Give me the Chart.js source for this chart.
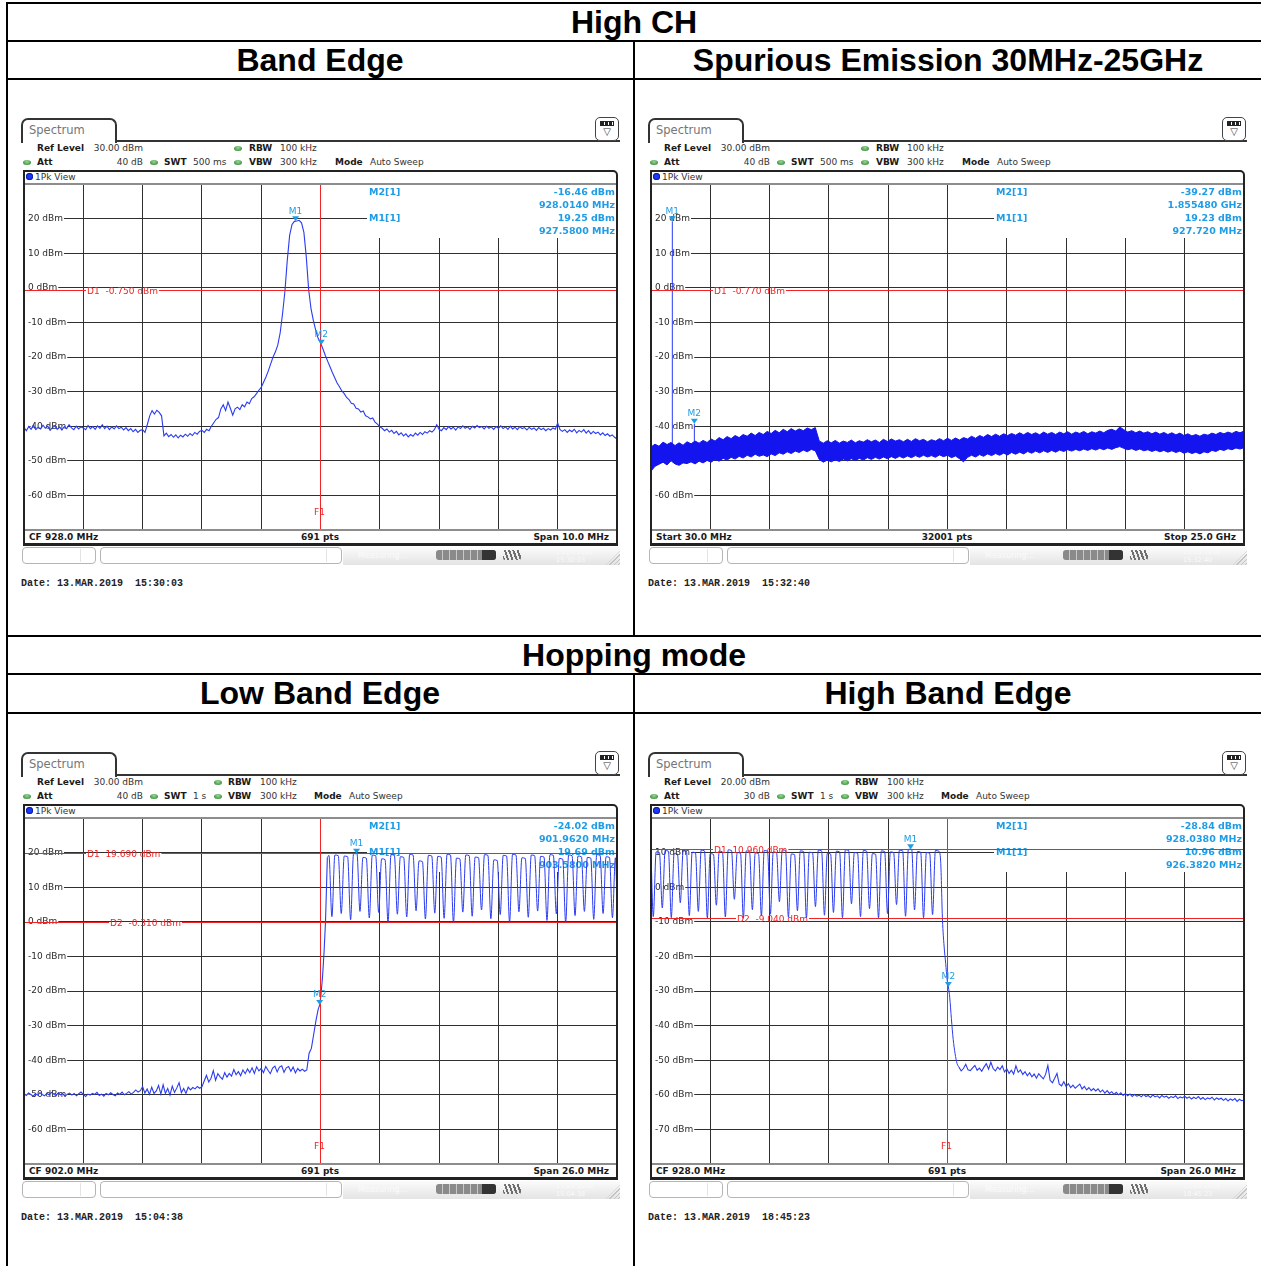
<!DOCTYPE html>
<html>
<head>
<meta charset="utf-8">
<title>High CH / Hopping mode – spectrum plots</title>
<script src="https://cdn.jsdelivr.net/npm/chart.js@4.4.1/dist/chart.umd.min.js"></script>
<style>
html, body { margin:0; padding:0; background:#fff; }
#page { position:relative; width:1261px; height:1266px; overflow:hidden; background:#fff; }
#page div, #page span, #page canvas { position:absolute; }
.rule { background:#000; }
.title { font:bold 32px "Liberation Sans", Arial, sans-serif; color:#000; white-space:nowrap; line-height:38px; transform:translateX(-50%); }
.t9 { font:9px "DejaVu Sans", sans-serif; color:#333; white-space:nowrap; line-height:12px; }
.b { font-weight:bold; color:#1a1a1a; }
.dot { width:8px; height:5px; border-radius:50%; background:radial-gradient(ellipse at 50% 35%, #9ad89a 0%, #55a655 55%, #2f6f2f 100%); }
.tab { box-sizing:border-box; border:2px solid #333; border-bottom:0; border-radius:7px 7px 0 0; background:#fff; }
.tabtxt { font:11.5px "DejaVu Sans", sans-serif; color:#757575; line-height:12px; white-space:nowrap; }
.btn { box-sizing:border-box; border:1.5px solid #444; border-radius:5px; background:#fff; }
.frame { box-sizing:border-box; border:2px solid #222; border-bottom-width:3px; border-radius:0 5px 0 0; z-index:3; }
.trdot { border-radius:50%; background:#1b38ff; box-shadow:inset 0 0 0 1px #0c1f9a; }
.sbox { box-sizing:border-box; border:1px solid #b5b5b5; border-radius:4px; background:#fff; }
.prog { border-radius:3px; background:repeating-linear-gradient(90deg, #8a8a8a 0 6px, #c8c8c8 6px 7px); }
.icon4 { background:repeating-linear-gradient(70deg, #6f6f6f 0 2px, transparent 2px 4px); border-radius:2px; }
.stamp { font:6.5px "DejaVu Sans", sans-serif; color:#fafafa; line-height:12px; white-space:nowrap; }
.grip { background:repeating-linear-gradient(135deg, #c4c4c4 0 1px, transparent 1px 3px); clip-path:polygon(100% 0, 100% 100%, 0 100%); }
.date { font:bold 10px "Liberation Mono", "DejaVu Sans Mono", monospace; color:#222; white-space:pre; line-height:12px; }
canvas { z-index:2; }
</style>
</head>
<body>
<div id="page"></div>
<script>
// ---------------- Band Edge, High CH (CF 928 MHz, span 10 MHz) ----------------
// peak-detector trace, one level every 0.04 MHz from 923 MHz
const bandEdgeStart = 923.0;
const bandEdgeStep = 0.04;
const bandEdgeLevels = [
  -40.4,-41.3,-40.1,-40.9,-39.8,-41.0,-40.3,-40.8,-39.7,-40.6,-40.0,-41.2,-40.4,-39.9,-40.9,-40.2,-41.1,-40.1,-40.7,-39.6,-40.5,-41.0,-40.0,-40.8,-40.2,
  -40.5,-41.0,-39.8,-40.7,-40.1,-40.9,-39.9,-40.6,-39.6,-40.7,-40.0,-41.0,-40.2,-40.8,-39.9,-40.7,-40.3,-41.1,-40.4,-41.3,-40.7,-41.6,-40.9,-41.8,-41.2,
  -41.0,-41.8,-39.5,-37.0,-35.5,-36.5,-35.4,-36.0,-37.0,-42.8,-42.0,-43.0,-42.4,-43.2,-42.5,-43.4,-42.6,-43.1,-42.3,-42.9,-42.1,-42.7,-41.8,-42.3,-41.5,
  -41.2,-41.8,-40.9,-41.3,-40.0,-39.0,-38.0,-37.5,-35.0,-33.8,-35.5,-33.0,-34.8,-36.8,-35.0,-34.5,-35.2,-33.8,-34.4,-33.0,-33.5,-32.0,-31.5,-30.6,-29.6,
  -28.8,-27.3,-25.8,-24.0,-22.0,-20.0,-18.5,-16.5,-13.0,-7.5,-1.0,8.0,15.2,18.3,19.2,19.3,19.5,18.8,16.0,9.0,-0.5,-6.0,-9.5,-12.3,-14.6,
  -15.9,-17.6,-19.5,-21.2,-22.8,-24.5,-26.0,-27.5,-28.6,-29.8,-30.6,-31.7,-32.3,-33.4,-33.6,-34.8,-35.0,-35.9,-35.6,-37.0,-37.3,-37.9,-37.6,-38.8,-39.4,
  -40.2,-40.6,-41.3,-40.8,-41.7,-41.2,-42.1,-41.5,-42.5,-41.9,-42.8,-42.2,-43.1,-42.4,-42.9,-42.0,-42.6,-41.8,-42.4,-41.6,-42.0,-41.3,-41.7,-41.0,-39.6,
  -40.9,-41.3,-40.4,-41.0,-40.1,-40.8,-40.3,-41.1,-40.2,-40.7,-39.9,-40.6,-40.2,-40.9,-40.0,-40.5,-39.8,-40.4,-40.1,-40.8,-40.0,-40.6,-40.2,-40.9,-40.1,
  -40.6,-39.9,-40.7,-40.2,-40.9,-40.0,-40.8,-40.3,-41.0,-40.1,-40.7,-40.4,-41.1,-40.3,-40.9,-40.5,-41.2,-40.4,-41.0,-40.6,-41.3,-40.7,-41.1,-40.5,-40.9,
  -39.1,-41.0,-41.5,-41.0,-41.8,-41.1,-41.6,-40.9,-41.9,-41.2,-41.7,-41.0,-42.0,-41.3,-42.2,-41.5,-42.1,-41.7,-42.5,-41.9,-42.7,-42.2,-42.9,-42.5,-43.2,
  -43.7
];
const bandEdgeMarkerFreq = [927.58, 928.014];
const bandEdgeMarkerLevel = [19.25, -16.46];
const bandEdgeDisplayLines = [-0.75];

// ---------------- Spurious emission 30 MHz - 25 GHz ----------------
// upper / lower envelope of the 32001-point sweep (GHz axis)
const spurStart = 0.03;
const spurStop = 25.0;
const spurUpper = [
  -46.0,-45.2,-45.8,-44.6,-45.3,-44.7,-45.6,-44.8,-45.5,-44.5,
  -45.1,-44.3,-44.9,-44.1,-44.7,-43.7,-44.3,-43.3,-43.9,-43.0,
  -43.6,-42.7,-43.3,-42.4,-42.9,-42.0,-42.7,-41.8,-42.4,-41.5,
  -42.1,-41.2,-41.9,-40.9,-41.6,-40.7,-41.4,-40.8,-41.3,-40.5,
  -41.0,-40.4,-44.3,-44.9,-44.2,-44.8,-44.1,-44.9,-44.3,-44.7,
  -44.0,-44.8,-44.2,-44.6,-43.9,-44.5,-44.0,-44.7,-43.8,-44.4,
  -43.7,-44.3,-43.9,-44.5,-43.8,-44.4,-43.6,-44.2,-43.8,-44.5,
  -43.9,-44.3,-43.6,-44.2,-43.5,-44.1,-43.4,-44.0,-43.3,-43.7,
  -42.9,-43.5,-42.7,-43.2,-42.4,-43.0,-42.3,-42.9,-42.2,-42.7,
  -42.1,-42.6,-41.9,-42.5,-41.8,-42.4,-41.9,-42.5,-41.7,-42.3,
  -41.8,-42.4,-41.7,-42.2,-41.6,-42.3,-41.7,-42.1,-41.5,-42.2,
  -41.6,-42.0,-41.4,-41.9,-41.2,-40.9,-41.4,-40.2,-41.0,-41.7,
  -41.3,-41.9,-41.4,-42.0,-41.6,-42.2,-41.7,-42.3,-41.8,-42.4,
  -41.9,-42.5,-42.0,-42.7,-42.2,-42.8,-42.4,-42.9,-42.3,-42.6,
  -42.0,-42.4,-41.8,-42.2,-41.7,-42.1,-41.5,-41.9,-41.4
];
const spurLower = [
  -53.0,-51.6,-51.0,-50.4,-51.2,-50.0,-50.9,-51.3,-50.6,-50.8,
  -50.3,-50.9,-50.1,-50.6,-49.9,-50.4,-49.6,-50.1,-49.3,-49.8,
  -49.0,-49.5,-48.7,-49.2,-48.4,-48.9,-48.1,-48.7,-48.3,-48.8,
  -48.0,-48.5,-47.7,-48.1,-47.4,-47.9,-47.2,-47.6,-46.9,-47.4,
  -46.7,-47.1,-49.6,-50.4,-49.8,-50.3,-49.7,-50.2,-49.5,-50.0,
  -49.4,-49.9,-49.3,-49.8,-49.1,-49.6,-49.0,-49.5,-48.9,-49.4,
  -48.8,-49.3,-48.7,-49.2,-48.6,-49.1,-48.5,-49.0,-48.4,-48.9,
  -48.5,-49.0,-48.3,-48.8,-48.4,-49.1,-48.6,-49.4,-50.3,-49.0,
  -48.4,-48.9,-48.2,-48.7,-48.0,-48.5,-47.9,-48.4,-47.8,-48.3,
  -47.6,-48.1,-47.5,-48.0,-47.3,-47.8,-47.2,-47.7,-47.1,-47.6,
  -47.0,-47.5,-46.9,-47.3,-46.8,-47.2,-46.7,-47.1,-46.6,-47.0,
  -46.5,-46.9,-46.4,-46.8,-46.3,-46.7,-46.2,-45.9,-46.4,-46.8,
  -46.5,-47.0,-46.6,-47.1,-46.8,-47.3,-46.9,-47.4,-47.0,-47.5,
  -47.1,-47.6,-47.2,-47.8,-47.4,-47.9,-47.5,-48.0,-47.4,-47.7,
  -47.0,-47.3,-46.7,-47.0,-46.5,-46.8,-46.3,-46.6,-46.2
];
const spurMarkerFreq = [0.92772, 1.85548];
const spurMarkerLevel = [19.23, -39.27];
const spurSpikeBase = [-45.0, -44.6];
const spurDisplayLines = [-0.77];

// ---------------- Hopping mode, low band edge (CF 902 MHz, span 26 MHz) ----------------
const lowNoiseStart = 889.0;
const lowNoiseStep = 0.1;
const lowNoiseLevels = [
  -49.6,-50.2,-49.5,-49.9,-50.4,-49.7,-50.1,-49.4,-49.9,-50.3,
  -49.6,-50.0,-49.3,-49.8,-50.2,-49.5,-50.0,-49.7,-50.4,-49.8,
  -49.5,-50.1,-49.6,-50.3,-49.7,-49.2,-49.9,-50.5,-49.8,-50.1,
  -49.6,-49.9,-49.3,-50.2,-49.8,-50.4,-49.6,-50.0,-49.4,-49.9,
  -50.3,-49.5,-49.9,-49.2,-50.0,-49.6,-49.1,-49.8,-49.3,-48.6,
  -49.2,-48.8,-47.6,-49.5,-48.3,-49.9,-47.8,-49.6,-48.9,-47.3,
  -49.8,-47.1,-49.6,-48.2,-50.1,-47.5,-49.3,-48.0,-46.5,-49.4,
  -48.2,-49.6,-47.8,-48.6,-47.9,-48.3,-47.6,-48.1,-47.7,-46.0,
  -44.4,-46.3,-45.2,-43.0,-45.8,-43.9,-44.8,-45.5,-43.6,-44.9,
  -43.8,-44.6,-42.7,-44.2,-43.3,-44.5,-42.8,-43.9,-42.5,-43.6,
  -42.2,-43.8,-41.9,-43.1,-42.4,-43.6,-41.8,-42.9,-43.9,-42.3,
  -41.7,-43.4,-42.0,-41.6,-43.5,-42.2,-41.8,-43.2,-42.0,-43.7,
  -42.4,-43.1,-42.6,-43.2,-42.8,-38.0,-36.6
];
const lowEdgeRise = [
  [901.715,-32.0],[901.803,-28.5],[901.890,-25.5],[901.962,-24.02],[902.022,-21.0],
  [902.088,-16.0],[902.154,-9.0],[902.219,0.0],[902.263,10.0],[902.30,18.6]
];
const lowHopTrace = [
  [902.30,18.6],[902.37,19.2],
  [902.50,1.5],[902.63,19.3],[902.78,19.1],
  [902.91,2.4],[903.04,19.0],[903.19,18.8],
  [903.32,0.6],[903.45,19.69],[903.60,19.69],
  [903.73,3.0],[903.86,18.6],[904.01,18.4],
  [904.14,1.1],[904.27,19.3],[904.42,19.1],
  [904.55,2.7],[904.68,18.2],[904.83,18.0],
  [904.96,-0.2],[905.09,19.4],[905.24,19.2],
  [905.37,2.2],[905.50,18.8],[905.65,18.6],
  [905.78,1.4],[905.91,19.5],[906.06,19.3],
  [906.19,3.2],[906.32,17.6],[906.47,17.4],
  [906.60,0.8],[906.73,19.2],[906.88,19.0],
  [907.01,2.5],[907.14,18.9],[907.29,18.7],
  [907.42,1.0],[907.55,19.5],[907.70,19.3],
  [907.83,-0.3],[907.96,18.4],[908.11,18.2],
  [908.24,2.8],[908.37,19.3],[908.52,19.1],
  [908.65,1.6],[908.78,18.7],[908.93,18.5],
  [909.06,3.4],[909.19,19.4],[909.34,19.2],
  [909.47,0.9],[909.60,17.9],[909.75,17.7],
  [909.88,2.1],[910.01,19.2],[910.16,19.0],
  [910.29,-0.1],[910.42,19.5],[910.57,19.3],
  [910.70,2.9],[910.83,18.5],[910.98,18.3],
  [911.11,1.3],[911.24,19.3],[911.39,19.1],
  [911.52,3.1],[911.65,18.9],[911.80,18.7],
  [911.93,0.4],[912.06,19.4],[912.21,19.2],
  [912.34,2.3],[912.47,18.3],[912.62,18.1],
  [912.75,-0.2],[912.88,19.3],[913.03,19.1],
  [913.16,1.8],[913.29,19.0],[913.44,18.8],
  [913.57,3.0],[913.70,18.6],[913.85,18.4],
  [913.98,0.7],[914.11,19.4],[914.26,19.2],
  [914.39,2.4],[914.52,18.8],[914.67,18.6],
  [914.80,1.2],[914.93,18.5],[915.00,7.0]
];
const lowMarkerFreq = [903.58, 901.962];
const lowMarkerLevel = [19.69, -24.02];
const lowDisplayLines = [19.69, -0.31];

// ---------------- Hopping mode, high band edge (CF 928 MHz, span 26 MHz) ----------------
const highHopTrace = [
  [915.00,9.8],
  [915.10,-8.5],[915.225,10.2],[915.37,10.0],
  [915.495,-6.0],[915.62,10.6],[915.765,10.4],
  [915.89,-8.8],[916.015,9.8],[916.16,9.6],
  [916.285,-4.5],[916.41,10.5],[916.555,10.3],
  [916.68,-8.2],[916.805,10.1],[916.95,9.9],
  [917.075,-7.0],[917.20,10.7],[917.345,10.5],
  [917.47,-8.9],[917.595,9.7],[917.74,9.5],
  [917.865,-5.2],[917.99,10.4],[918.135,10.2],
  [918.26,-8.6],[918.385,10.8],[918.53,10.6],
  [918.655,-3.5],[918.78,10.0],[918.925,9.8],
  [919.05,-9.0],[919.175,10.5],[919.32,10.3],
  [919.445,-6.5],[919.57,9.9],[919.715,9.7],
  [919.84,-8.3],[919.965,10.6],[920.11,10.4],
  [920.235,-7.8],[920.36,10.2],[920.505,10.0],
  [920.63,-4.2],[920.755,10.8],[920.90,10.6],
  [921.025,-8.7],[921.15,9.6],[921.295,9.4],
  [921.42,-6.8],[921.545,10.5],[921.69,10.3],
  [921.815,-8.9],[921.94,10.1],[922.085,9.9],
  [922.21,-5.6],[922.335,10.7],[922.48,10.5],
  [922.605,-8.1],[922.73,9.8],[922.875,9.6],
  [923.00,-7.3],[923.125,10.4],[923.27,10.2],
  [923.395,-8.8],[923.52,10.8],[923.665,10.6],
  [923.79,-4.8],[923.915,10.0],[924.06,9.8],
  [924.185,-8.5],[924.31,10.6],[924.455,10.4],
  [924.58,-6.2],[924.705,9.7],[924.85,9.5],
  [924.975,-8.9],[925.10,10.5],[925.245,10.3],
  [925.37,-7.6],[925.495,10.2],[925.64,10.0],
  [925.765,-5.0],[925.89,10.7],[926.035,10.5],
  [926.16,-8.4],[926.285,10.96],[926.43,10.96],
  [926.555,-6.6],[926.68,10.3],[926.825,10.1],
  [926.95,-8.8],[927.075,10.0],[927.22,9.8],
  [927.345,-7.9],[927.47,10.6],[927.62,10.4],
  [927.70,7.5],[927.78,-9.5],[927.85,-17.0],[927.92,-22.0],[927.98,-26.5],
  [928.038,-28.84],[928.10,-32.0],[928.17,-38.0],[928.25,-44.0],[928.33,-48.0],[928.42,-51.0],[928.50,-52.0]
];
const highNoiseStart = 928.5;
const highNoiseStep = 0.1;
const highNoiseLevels = [
  -52.0,-53.1,-52.4,-51.2,-52.8,-53.0,-52.2,-51.5,-52.9,-52.3,
  -53.2,-52.0,-51.0,-52.6,-50.6,-52.4,-53.1,-52.0,-52.7,-51.6,
  -53.4,-52.5,-53.8,-52.9,-54.0,-51.6,-53.5,-52.8,-54.1,-53.3,
  -54.5,-53.6,-54.8,-54.0,-55.2,-53.9,-54.7,-55.4,-54.1,-51.5,
  -55.8,-56.5,-55.2,-53.8,-56.9,-57.4,-56.2,-57.6,-56.8,-57.9,
  -57.2,-58.1,-57.5,-56.9,-58.3,-57.6,-58.6,-57.9,-58.8,-58.2,
  -58.9,-58.3,-59.2,-58.6,-59.5,-58.8,-59.6,-59.1,-59.9,-59.3,
  -60.0,-59.4,-60.2,-59.6,-60.3,-59.8,-60.5,-59.9,-60.4,-60.1,
  -60.6,-59.9,-60.5,-60.2,-60.8,-60.0,-60.6,-60.3,-60.9,-60.2,
  -60.7,-60.4,-61.0,-60.5,-60.8,-60.3,-61.1,-60.6,-60.9,-60.4,
  -61.0,-60.6,-61.2,-60.7,-61.1,-60.5,-61.3,-60.8,-61.4,-60.9,
  -61.2,-60.7,-61.5,-60.9,-61.3,-61.0,-61.6,-61.1,-61.8,-61.2,
  -61.6,-61.1,-61.9,-61.3,-61.7,-61.5
];
const highMarkerFreq = [926.382, 928.038];
const highMarkerLevel = [10.96, -28.84];
const highDisplayLines = [10.96, -9.04];

// ---------------- drawing ----------------
const GRID_COLOR = '#303030';
const EDGE_COLOR = '#8d8d8d';
const TRACE_COLOR = '#2a3bf2';
const BAND_COLOR = '#1414ee';
const MARKER_COLOR = '#1f9ce6';
const LINE_RED = '#f02424';
const FONT = '"DejaVu Sans", sans-serif';

const page = document.getElementById('page');

function add(x, y, w, h, css, cls) {
  const d = document.createElement('div');
  if (cls) d.className = cls;
  Object.assign(d.style, { left: x + 'px', top: y + 'px', width: w + 'px', height: h + 'px' }, css || {});
  page.appendChild(d);
  return d;
}
function label(x, yc, s, cls, align, css) {
  const d = document.createElement('span');
  d.className = cls || 't9';
  d.textContent = s;
  d.style.left = x + 'px';
  d.style.top = (yc - 6) + 'px';
  if (align === 'right') d.style.transform = 'translateX(-100%)';
  if (align === 'center') d.style.transform = 'translateX(-50%)';
  Object.assign(d.style, css || {});
  page.appendChild(d);
  return d;
}
function title(cx, top, s) {
  const d = document.createElement('div');
  d.className = 'title';
  d.textContent = s;
  d.style.left = cx + 'px';
  d.style.top = top + 'px';
  page.appendChild(d);
}

// table rules and headings
[[6,2,1255,2],[6,40,1255,2],[6,78,1255,2],[6,635,1255,2],[6,673,1255,2],[6,712,1255,2],
 [6,2,2,1264],[633,40,2,597],[633,673,2,593]].forEach(r => add(r[0], r[1], r[2], r[3], null, 'rule'));
title(634, 3, 'High CH');
title(320, 41, 'Band Edge');
title(948, 41, 'Spurious Emission 30MHz-25GHz');
title(634, 636, 'Hopping mode');
title(320, 674, 'Low Band Edge');
title(948, 674, 'High Band Edge');

function divisions(a, b) {
  const t = [];
  for (let i = 0; i <= 10; i++) t.push(a + (b - a) * i / 10);
  return t;
}
function series(start, step, levels) { return levels.map((y, i) => ({ x: start + i * step, y })); }
function pairs(list) { return list.map(p => ({ x: p[0], y: p[1] })); }
const fmtMHz = f => f.toFixed(4) + ' MHz';
const fmtGHz = f => f >= 1 ? f.toFixed(6) + ' GHz' : (f * 1000).toFixed(3) + ' MHz';
const crisp = v => Math.round(v - 0.5) + 0.5;

// instrument frame around each diagram
function buildChrome(p) {
  const X = v => v + p.ox, Y = v => v + p.oy;
  add(X(21), Y(118), 96, 25, null, 'tab');
  label(X(29), Y(130), 'Spectrum', 'tabtxt');
  add(X(115), Y(140), 505, 2, { background: '#333' });
  add(X(595), Y(117), 24, 24, null, 'btn');
  add(X(600), Y(121), 14, 5, { background: 'repeating-linear-gradient(90deg,#222 0 3px,#fff 3px 4px)', border: '1px solid #222', boxSizing: 'border-box' });
  label(X(607), Y(132), '\u25BD', 't9', 'center', { fontSize: '10px', color: '#333' });

  label(X(37), Y(148), 'Ref Level', 't9 b');
  label(X(143), Y(148), p.refLevel, 't9', 'right');
  add(X(p.col.dot), Y(146), 8, 5, null, 'dot');
  label(X(p.col.key), Y(148), 'RBW', 't9 b');
  label(X(p.col.val), Y(148), p.rbw, 't9');
  add(X(23), Y(160), 8, 5, null, 'dot');
  label(X(37), Y(162), 'Att', 't9 b');
  label(X(143), Y(162), p.att, 't9', 'right');
  add(X(150), Y(160), 8, 5, null, 'dot');
  label(X(164), Y(162), 'SWT', 't9 b');
  label(X(193), Y(162), p.swt, 't9');
  add(X(p.col.dot), Y(160), 8, 5, null, 'dot');
  label(X(p.col.key), Y(162), 'VBW', 't9 b');
  label(X(p.col.val), Y(162), p.vbw, 't9');
  label(X(p.col.mode), Y(162), 'Mode', 't9 b');
  label(X(p.col.mode + 35), Y(162), 'Auto Sweep', 't9');

  add(X(23), Y(170), 595, 376, null, 'frame');
  add(X(26), Y(173), 7, 7, null, 'trdot');
  label(X(35), Y(177), '1Pk View', 't9');
  label(X(29), Y(537), p.footer[0], 't9 b');
  label(X(320), Y(537), p.footer[1], 't9 b', 'center');
  label(X(609), Y(537), p.footer[2], 't9 b', 'right');

  add(X(22), Y(547), 74, 17, null, 'sbox');
  add(X(80), Y(549), 1, 13, { background: '#e4e4e4' });
  add(X(100), Y(547), 242, 17, null, 'sbox');
  add(X(326), Y(549), 1, 13, { background: '#e4e4e4' });
  add(X(343), Y(547), 277, 18, { background: 'linear-gradient(#fbfbfb, #e4e4e4)' });
  label(X(358), Y(556), 'Measuring...', 't9', null, { color: '#fbfbfb', fontSize: '8px' });
  add(X(436), Y(550), 60, 10, null, 'prog');
  add(X(482), Y(550), 14, 10, { background: '#333', borderRadius: '0 3px 3px 0' });
  add(X(503), Y(550), 18, 10, null, 'icon4');
  label(X(556), Y(552), '13.03.2019', 'stamp');
  label(X(556), Y(560), p.time, 'stamp');
  add(X(606), Y(551), 14, 14, null, 'grip');
  label(X(21), Y(584), 'Date: 13.MAR.2019  ' + p.time, 'date');
}

// display lines, frequency line, markers and marker readout
function analyzerOverlay(o) {
  return {
    id: 'analyzerOverlay',
    beforeDatasetsDraw(chart) {
      const { ctx, chartArea: a } = chart;
      ctx.save();
      ctx.fillStyle = '#fff';
      ctx.fillRect(a.left + 343, a.top + 1, a.right - a.left - 344, 53);
      ctx.font = 'bold 9.5px ' + FONT;
      ctx.fillStyle = MARKER_COLOR;
      ctx.textBaseline = 'middle';
      const order = o.markerFreq.map((_, i) => i).reverse();
      order.forEach((m, row) => {
        const yy = a.top + 9 + row * 26;
        ctx.textAlign = 'left';
        ctx.fillText('M' + (m + 1) + '[1]', a.left + 345, yy);
        ctx.textAlign = 'right';
        ctx.fillText(o.markerLevel[m].toFixed(2) + ' dBm', a.right - 2, yy);
        ctx.fillText(o.fmtFreq(o.markerFreq[m]), a.right - 2, yy + 13);
      });
      ctx.restore();
    },
    afterDatasetsDraw(chart) {
      const { ctx, chartArea: a, scales: { x, y } } = chart;
      ctx.save();
      ctx.font = '9px ' + FONT;
      ctx.textBaseline = 'middle';
      ctx.lineWidth = 1;
      o.displayLines.forEach((lvl, i) => {
        const py = crisp(y.getPixelForValue(lvl));
        const text = 'D' + (i + 1) + '  ' + lvl.toFixed(3) + ' dBm';
        const lx = a.left + (i === 0 ? 63 : 86);
        const w = ctx.measureText(text).width;
        ctx.strokeStyle = LINE_RED;
        ctx.beginPath();
        ctx.moveTo(a.left, py); ctx.lineTo(lx - 1, py);
        ctx.moveTo(lx + w + 1, py); ctx.lineTo(a.right, py);
        ctx.stroke();
        ctx.fillStyle = LINE_RED;
        ctx.textAlign = 'left';
        ctx.fillText(text, lx, py + 1);
      });
      if (o.freqLine != null) {
        const px = crisp(x.getPixelForValue(o.freqLine));
        ctx.strokeStyle = LINE_RED;
        ctx.beginPath(); ctx.moveTo(px, a.top + 1); ctx.lineTo(px, a.bottom - 1); ctx.stroke();
        ctx.fillStyle = LINE_RED;
        ctx.textAlign = 'center';
        ctx.fillText('F1', px - 1, a.bottom - 17);
      }
      o.markerFreq.forEach((f, i) => {
        const px = x.getPixelForValue(f), py = y.getPixelForValue(o.markerLevel[i]);
        ctx.fillStyle = MARKER_COLOR;
        ctx.beginPath();
        ctx.moveTo(px - 3.5, py - 5); ctx.lineTo(px + 3.5, py - 5); ctx.lineTo(px, py);
        ctx.closePath(); ctx.fill();
        ctx.textAlign = 'center';
        ctx.fillText('M' + (i + 1), px, py - 10);
      });
      ctx.restore();
    }
  };
}

function noPadding(s) {
  s.paddingTop = 0; s.paddingBottom = 0; s.paddingLeft = 0; s.paddingRight = 0;
}

function buildChart(p) {
  const cv = document.createElement('canvas');
  cv.width = 598; cv.height = 351;
  Object.assign(cv.style, { left: (22 + p.ox) + 'px', top: (182 + p.oy) + 'px', width: '598px', height: '351px' });
  page.appendChild(cv);
  const yMin = p.yMax - 100;
  const xGrid = divisions(p.xMin, p.xMax);
  const edge = c => c.index === 0 || c.index === 10;
  new Chart(cv, {
    type: 'line',
    data: { datasets: p.datasets },
    options: {
      responsive: false,
      animation: false,
      devicePixelRatio: 1,
      events: [],
      layout: { padding: { left: 2, top: 2, right: 3, bottom: 3 } },
      plugins: { legend: { display: false }, tooltip: { enabled: false } },
      elements: { point: { radius: 0 }, line: { borderWidth: 1.1 } },
      scales: {
        x: {
          type: 'linear', min: p.xMin, max: p.xMax,
          border: { display: false },
          grid: { color: GRID_COLOR, drawTicks: false },
          ticks: { display: false },
          afterBuildTicks: s => { s.ticks = xGrid.map(v => ({ value: v })); },
          afterFit: s => { s.height = 0; noPadding(s); }
        },
        y: {
          type: 'linear', min: yMin, max: p.yMax,
          border: { display: false },
          grid: { drawTicks: false, color: c => edge(c) ? EDGE_COLOR : GRID_COLOR, lineWidth: c => edge(c) ? 2 : 1 },
          ticks: {
            stepSize: 10, mirror: true, padding: 4, color: '#2a2a2a',
            font: { family: FONT, size: 9 },
            showLabelBackdrop: c => !edge(c), backdropColor: '#fff',
            backdropPadding: { left: 4, right: 1, top: 0, bottom: 0 },
            callback: v => (v === yMin || v === p.yMax) ? '' : v + ' dBm'
          },
          afterFit: s => { s.width = 0; noPadding(s); }
        }
      }
    },
    plugins: [analyzerOverlay(p.overlay)]
  });
}

const lineStyle = { borderColor: TRACE_COLOR, borderWidth: 1.1, pointRadius: 0, fill: false };
const spurStep = (spurStop - spurStart) / (spurUpper.length - 1);
const spurSpikes = [];
spurMarkerFreq.forEach((f, i) => {
  if (i) spurSpikes.push({ x: f, y: null });
  spurSpikes.push({ x: f, y: spurSpikeBase[i] }, { x: f, y: spurMarkerLevel[i] });
});

const colsA = { dot: 234, key: 249, val: 280, mode: 335 };
const colsB = { dot: 214, key: 228, val: 260, mode: 314 };

const panels = [
  {
    ox: 0, oy: 0, col: colsA, refLevel: '30.00 dBm', att: '40 dB', swt: '500 ms', rbw: '100 kHz', vbw: '300 kHz',
    footer: ['CF 928.0 MHz', '691 pts', 'Span 10.0 MHz'], time: '15:30:03',
    xMin: 923, xMax: 933, yMax: 30,
    datasets: [Object.assign({ data: series(bandEdgeStart, bandEdgeStep, bandEdgeLevels) }, lineStyle)],
    overlay: { markerFreq: bandEdgeMarkerFreq, markerLevel: bandEdgeMarkerLevel, displayLines: bandEdgeDisplayLines, freqLine: 928.0, fmtFreq: fmtMHz }
  },
  {
    ox: 627, oy: 0, col: colsA, refLevel: '30.00 dBm', att: '40 dB', swt: '500 ms', rbw: '100 kHz', vbw: '300 kHz',
    footer: ['Start 30.0 MHz', '32001 pts', 'Stop 25.0 GHz'], time: '15:32:40',
    xMin: spurStart, xMax: spurStop, yMax: 30,
    datasets: [
      { data: series(spurStart, spurStep, spurUpper), borderColor: BAND_COLOR, backgroundColor: BAND_COLOR, borderWidth: 1, pointRadius: 0, fill: '+1' },
      { data: series(spurStart, spurStep, spurLower), borderColor: BAND_COLOR, borderWidth: 1, pointRadius: 0, fill: false },
      { data: spurSpikes, borderColor: TRACE_COLOR, borderWidth: 1, pointRadius: 0, fill: false, spanGaps: false }
    ],
    overlay: { markerFreq: spurMarkerFreq, markerLevel: spurMarkerLevel, displayLines: spurDisplayLines, freqLine: null, fmtFreq: fmtGHz }
  },
  {
    ox: 0, oy: 634, col: colsB, refLevel: '30.00 dBm', att: '40 dB', swt: '1 s', rbw: '100 kHz', vbw: '300 kHz',
    footer: ['CF 902.0 MHz', '691 pts', 'Span 26.0 MHz'], time: '15:04:38',
    xMin: 889, xMax: 915, yMax: 30,
    datasets: [
      Object.assign({ data: series(lowNoiseStart, lowNoiseStep, lowNoiseLevels).concat(pairs(lowEdgeRise)) }, lineStyle),
      Object.assign({ data: pairs(lowHopTrace), cubicInterpolationMode: 'monotone' }, lineStyle, { borderWidth: 1 })
    ],
    overlay: { markerFreq: lowMarkerFreq, markerLevel: lowMarkerLevel, displayLines: lowDisplayLines, freqLine: 902.0, fmtFreq: fmtMHz }
  },
  {
    ox: 627, oy: 634, col: colsB, refLevel: '20.00 dBm', att: '30 dB', swt: '1 s', rbw: '100 kHz', vbw: '300 kHz',
    footer: ['CF 928.0 MHz', '691 pts', 'Span 26.0 MHz'], time: '18:45:23',
    xMin: 915, xMax: 941, yMax: 20,
    datasets: [
      Object.assign({ data: pairs(highHopTrace), cubicInterpolationMode: 'monotone' }, lineStyle, { borderWidth: 1 }),
      Object.assign({ data: series(highNoiseStart, highNoiseStep, highNoiseLevels) }, lineStyle)
    ],
    overlay: { markerFreq: highMarkerFreq, markerLevel: highMarkerLevel, displayLines: highDisplayLines, freqLine: 928.0, fmtFreq: fmtMHz }
  }
];

panels.forEach(p => { buildChrome(p); buildChart(p); });
</script>
</body>
</html>
